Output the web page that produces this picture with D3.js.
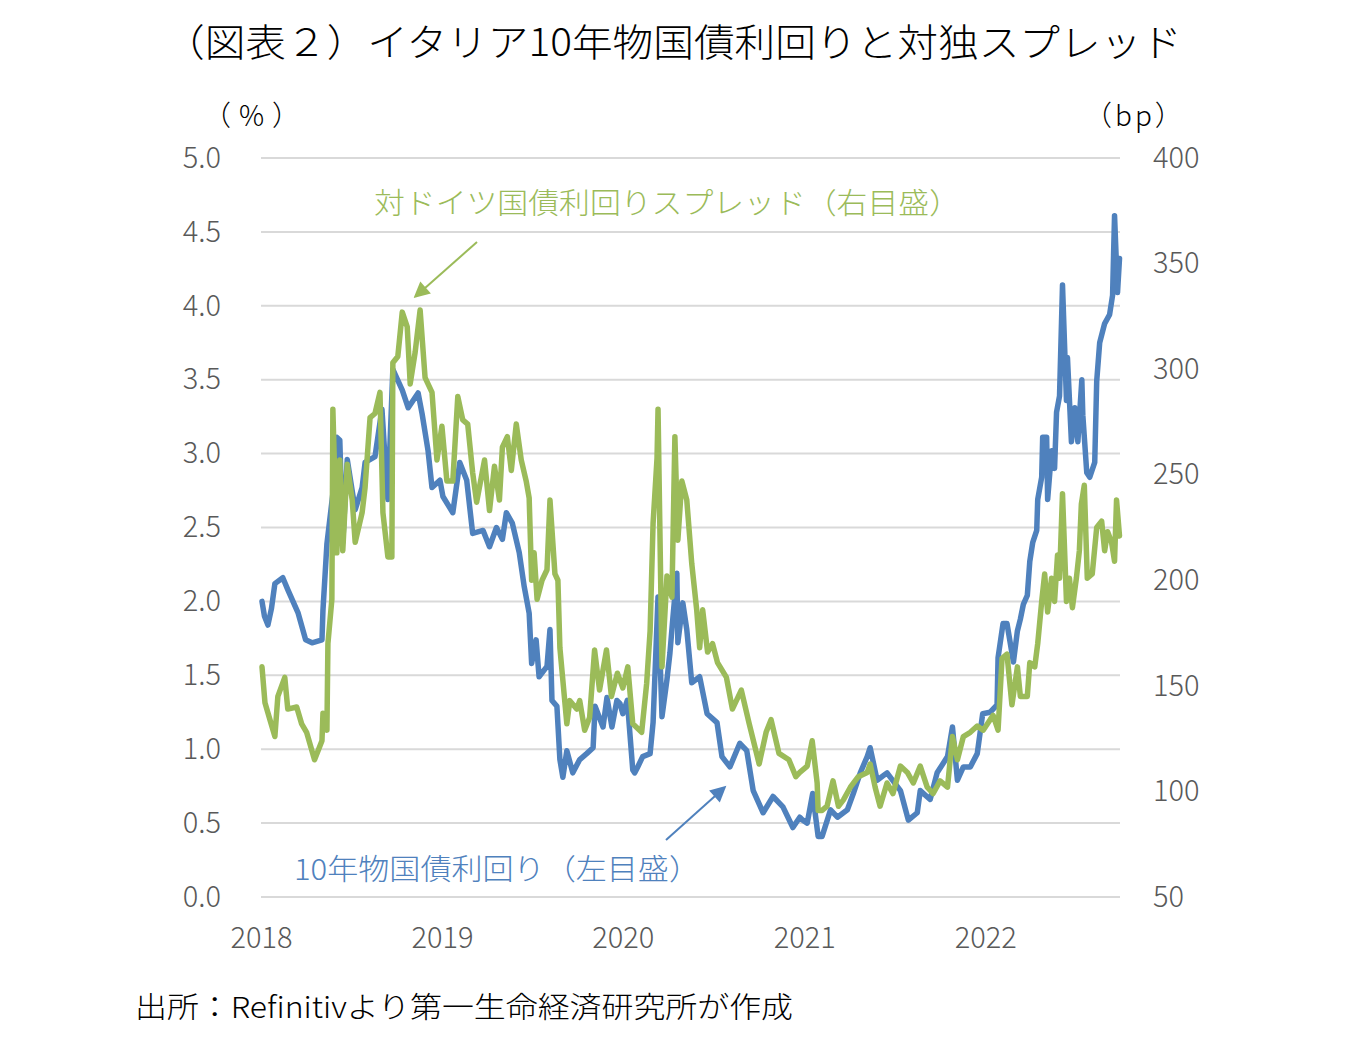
<!DOCTYPE html>
<html>
<head>
<meta charset="utf-8">
<script src="https://cdn.jsdelivr.net/npm/d3@7"></script>
<style>
  body { margin: 0; background: #fff; }
  svg text { font-family: 'Noto Sans CJK JP', 'Noto Sans', sans-serif; text-spacing-trim: space-all; }
</style>
</head>
<body>
<svg id="chart" width="1364" height="1050"></svg>
<script>
'use strict';

var titleText = '（図表２）イタリア10年物国債利回りと対独スプレッド';
var sourceText = '出所：Refinitivより第一生命経済研究所が作成';
var yieldLabel = '10年物国債利回り（左目盛）';
var spreadLabel = '対ドイツ国債利回りスプレッド（右目盛）';
var leftUnit = '（%）';
var rightUnit = '（bp）';

var xStart = '2018-01-01';
var xEnd = '2022-09-30';
var xTicks = ['2018-01-01', '2019-01-01', '2020-01-01', '2021-01-01', '2022-01-01'];
var leftTicks = [0, 0.5, 1, 1.5, 2, 2.5, 3, 3.5, 4, 4.5, 5];
var rightTicks = [50, 100, 150, 200, 250, 300, 350, 400];

// 10-year BTP yield (%)
var yieldData = [
  ['2018-01-03', 2.0], ['2018-01-08', 1.9], ['2018-01-15', 1.84], ['2018-01-22', 1.95], ['2018-01-29', 2.12], ['2018-02-14', 2.16],
  ['2018-02-24', 2.08], ['2018-03-17', 1.92], ['2018-04-01', 1.74], ['2018-04-14', 1.72],
  ['2018-05-04', 1.74], ['2018-05-06', 1.94], ['2018-05-14', 2.39], ['2018-05-26', 2.73],
  ['2018-06-03', 3.11], ['2018-06-09', 3.09], ['2018-06-15', 2.4], ['2018-06-24', 2.96],
  ['2018-07-10', 2.62], ['2018-07-24', 2.77], ['2018-07-30', 2.94], ['2018-08-19', 2.98],
  ['2018-09-02', 3.3], ['2018-09-12', 2.77], ['2018-09-14', 2.69], ['2018-09-24', 3.57],
  ['2018-10-13', 3.43], ['2018-10-25', 3.31], ['2018-11-14', 3.41], ['2018-11-22', 3.27],
  ['2018-12-04', 3.02], ['2018-12-12', 2.77], ['2018-12-28', 2.82], ['2019-01-03', 2.71],
  ['2019-01-23', 2.6], ['2019-02-06', 2.94], ['2019-02-20', 2.82], ['2019-03-04', 2.46],
  ['2019-03-25', 2.48], ['2019-04-07', 2.37], ['2019-04-21', 2.5], ['2019-05-03', 2.42],
  ['2019-05-11', 2.6], ['2019-05-23', 2.53], ['2019-06-06', 2.33], ['2019-06-16', 2.1],
  ['2019-06-26', 1.92], ['2019-07-01', 1.58], ['2019-07-10', 1.74], ['2019-07-16', 1.49],
  ['2019-08-01', 1.56], ['2019-08-07', 1.81], ['2019-08-11', 1.33], ['2019-08-21', 1.29],
  ['2019-08-27', 0.93], ['2019-09-02', 0.81], ['2019-09-10', 0.99], ['2019-09-22', 0.84],
  ['2019-10-06', 0.93], ['2019-10-20', 0.97], ['2019-11-02', 1.01], ['2019-11-06', 1.29],
  ['2019-11-22', 1.15], ['2019-11-30', 1.35], ['2019-12-10', 1.15], ['2019-12-20', 1.33],
  ['2019-12-26', 1.31], ['2020-01-01', 1.24], ['2020-01-10', 1.33], ['2020-01-21', 0.86],
  ['2020-01-25', 0.84], ['2020-01-31', 0.88], ['2020-02-10', 0.95], ['2020-02-25', 0.97],
  ['2020-03-02', 1.18], ['2020-03-12', 2.03], ['2020-03-20', 1.22], ['2020-03-30', 1.47],
  ['2020-04-05', 1.65], ['2020-04-11', 1.89], ['2020-04-19', 2.19], ['2020-04-21', 1.72],
  ['2020-05-01', 1.99], ['2020-05-09', 1.81], ['2020-05-19', 1.45], ['2020-06-04', 1.49],
  ['2020-06-19', 1.24], ['2020-07-09', 1.18], ['2020-07-19', 0.95], ['2020-08-04', 0.88],
  ['2020-08-24', 1.04], ['2020-09-07', 0.99], ['2020-09-20', 0.72], ['2020-10-10', 0.57],
  ['2020-10-30', 0.68], ['2020-11-19', 0.61], ['2020-12-09', 0.47], ['2020-12-23', 0.54],
  ['2020-12-29', 0.52], ['2021-01-07', 0.5], ['2021-01-18', 0.7], ['2021-01-29', 0.41],
  ['2021-02-06', 0.41], ['2021-02-23', 0.59], ['2021-03-09', 0.54], ['2021-03-29', 0.59],
  ['2021-04-10', 0.7], ['2021-04-24', 0.84], ['2021-05-08', 0.95], ['2021-05-14', 1.01],
  ['2021-05-28', 0.79], ['2021-06-17', 0.84], ['2021-07-14', 0.72], ['2021-07-30', 0.52],
  ['2021-08-17', 0.57], ['2021-08-23', 0.72], ['2021-09-12', 0.66], ['2021-09-26', 0.84],
  ['2021-10-17', 0.95], ['2021-10-27', 1.15], ['2021-11-06', 0.79], ['2021-11-18', 0.88],
  ['2021-12-02', 0.88], ['2021-12-16', 0.97], ['2021-12-27', 1.24], ['2022-01-11', 1.25],
  ['2022-01-25', 1.3], ['2022-01-27', 1.62], ['2022-02-06', 1.85], ['2022-02-14', 1.85],
  ['2022-02-27', 1.59], ['2022-03-07', 1.8], ['2022-03-13', 1.88], ['2022-03-19', 1.98],
  ['2022-03-27', 2.04], ['2022-04-01', 2.27], ['2022-04-07', 2.4], ['2022-04-15', 2.48],
  ['2022-04-17', 2.69], ['2022-04-25', 2.84], ['2022-04-27', 3.11], ['2022-05-05', 3.11],
  ['2022-05-07', 2.69], ['2022-05-15', 3.02], ['2022-05-21', 2.9], ['2022-05-25', 3.28],
  ['2022-05-31', 3.39], ['2022-06-06', 4.14], ['2022-06-14', 3.36], ['2022-06-16', 3.65],
  ['2022-06-24', 3.08], ['2022-07-01', 3.31], ['2022-07-07', 3.08], ['2022-07-15', 3.5],
  ['2022-07-17', 3.26], ['2022-07-25', 2.87], ['2022-07-31', 2.84], ['2022-08-10', 2.94],
  ['2022-08-14', 3.49], ['2022-08-20', 3.75], ['2022-08-30', 3.88], ['2022-09-09', 3.94],
  ['2022-09-15', 4.07], ['2022-09-19', 4.61], ['2022-09-25', 4.09], ['2022-09-29', 4.32]
];

// spread vs German Bund (bp)
var spreadData = [
  ['2018-01-03', 159], ['2018-01-09', 142], ['2018-01-19', 134], ['2018-01-29', 126],
  ['2018-02-04', 145], ['2018-02-18', 154], ['2018-02-24', 139], ['2018-03-14', 140],
  ['2018-03-24', 132], ['2018-04-03', 128], ['2018-04-19', 115], ['2018-05-04', 124],
  ['2018-05-06', 137], ['2018-05-14', 129], ['2018-05-16', 170], ['2018-05-24', 191],
  ['2018-05-26', 281], ['2018-06-03', 213], ['2018-06-09', 257], ['2018-06-15', 214],
  ['2018-06-24', 255], ['2018-07-04', 238], ['2018-07-10', 218], ['2018-07-24', 232],
  ['2018-07-30', 244], ['2018-08-09', 277], ['2018-08-19', 279], ['2018-08-29', 289],
  ['2018-09-04', 232], ['2018-09-14', 211], ['2018-09-22', 211], ['2018-09-24', 303],
  ['2018-10-04', 306], ['2018-10-13', 327], ['2018-10-23', 320], ['2018-10-29', 293],
  ['2018-11-08', 308], ['2018-11-18', 328], ['2018-11-28', 296], ['2018-12-12', 289],
  ['2018-12-22', 257], ['2019-01-01', 273], ['2019-01-11', 247], ['2019-01-23', 247],
  ['2019-02-02', 287], ['2019-02-12', 276], ['2019-02-22', 274], ['2019-03-04', 251],
  ['2019-03-12', 237], ['2019-03-28', 257], ['2019-04-07', 233], ['2019-04-17', 254],
  ['2019-04-27', 238], ['2019-05-03', 263], ['2019-05-13', 268], ['2019-05-21', 252],
  ['2019-05-31', 274], ['2019-06-10', 257], ['2019-06-20', 247], ['2019-06-26', 239],
  ['2019-07-01', 200], ['2019-07-06', 213], ['2019-07-12', 191], ['2019-07-22', 200],
  ['2019-08-01', 205], ['2019-08-07', 238], ['2019-08-17', 203], ['2019-08-23', 200],
  ['2019-08-27', 168], ['2019-09-10', 132], ['2019-09-16', 143], ['2019-09-30', 139],
  ['2019-10-06', 143], ['2019-10-16', 129], ['2019-10-26', 135], ['2019-11-05', 167],
  ['2019-11-15', 148], ['2019-11-29', 167], ['2019-12-09', 145], ['2019-12-21', 156],
  ['2020-01-01', 149], ['2020-01-11', 159], ['2020-01-21', 132], ['2020-02-08', 128],
  ['2020-02-18', 151], ['2020-02-25', 176], ['2020-03-02', 227], ['2020-03-10', 258],
  ['2020-03-12', 281], ['2020-03-20', 159], ['2020-03-30', 202], ['2020-04-09', 192],
  ['2020-04-15', 268], ['2020-04-21', 219], ['2020-04-29', 247], ['2020-05-09', 238],
  ['2020-05-19', 208], ['2020-05-29', 186], ['2020-06-04', 168], ['2020-06-10', 186],
  ['2020-06-20', 166], ['2020-06-30', 170], ['2020-07-10', 161], ['2020-07-28', 154],
  ['2020-08-09', 139], ['2020-08-27', 148], ['2020-09-12', 132], ['2020-10-02', 113],
  ['2020-10-16', 128], ['2020-10-26', 134], ['2020-11-11', 118], ['2020-12-01', 115],
  ['2020-12-15', 107], ['2020-12-23', 109], ['2021-01-07', 112], ['2021-01-17', 124],
  ['2021-01-27', 104], ['2021-01-29', 91], ['2021-02-06', 91], ['2021-02-16', 93],
  ['2021-02-28', 105], ['2021-03-11', 93], ['2021-03-21', 96], ['2021-04-04', 102],
  ['2021-04-20', 107], ['2021-05-08', 109], ['2021-05-14', 113], ['2021-05-24', 102],
  ['2021-06-03', 93], ['2021-06-17', 104], ['2021-06-29', 99], ['2021-07-14', 112],
  ['2021-07-28', 109], ['2021-08-09', 104], ['2021-08-23', 112], ['2021-09-06', 102],
  ['2021-09-18', 99], ['2021-10-02', 105], ['2021-10-17', 102], ['2021-10-27', 126],
  ['2021-11-06', 115], ['2021-11-18', 126], ['2021-12-02', 128], ['2021-12-16', 131],
  ['2021-12-28', 129], ['2022-01-11', 134], ['2022-01-17', 136], ['2022-01-27', 129],
  ['2022-02-04', 163], ['2022-02-14', 165], ['2022-02-24', 141], ['2022-03-07', 159],
  ['2022-03-13', 145], ['2022-03-27', 145], ['2022-04-01', 161], ['2022-04-11', 159],
  ['2022-04-17', 170], ['2022-04-25', 190], ['2022-05-01', 203], ['2022-05-07', 185],
  ['2022-05-15', 201], ['2022-05-21', 190], ['2022-05-27', 212], ['2022-05-31', 201],
  ['2022-06-06', 241], ['2022-06-14', 190], ['2022-06-20', 201], ['2022-06-26', 187],
  ['2022-07-04', 201], ['2022-07-10', 214], ['2022-07-14', 236], ['2022-07-20', 245],
  ['2022-07-26', 201], ['2022-08-05', 203], ['2022-08-14', 225], ['2022-08-24', 228],
  ['2022-08-30', 214], ['2022-09-05', 223], ['2022-09-13', 218], ['2022-09-19', 209],
  ['2022-09-23', 238], ['2022-09-29', 221]
];

var blueColor = '#4F81BD';
var greenColor = '#9BBB59';
var tickColor = '#595959';
var gridColor = '#D9D9D9';

var margin = { left: 261, right: 1120, top: 158, bottom: 897 };
var parseDate = d3.timeParse('%Y-%m-%d');

var svg = d3.select('#chart');

var x = d3.scaleTime()
  .domain([parseDate(xStart), parseDate(xEnd)])
  .range([margin.left, margin.right]);
var yLeft = d3.scaleLinear().domain([0, 5]).range([margin.bottom, margin.top]);
var yRight = d3.scaleLinear().domain([50, 400]).range([margin.bottom, margin.top]);

function addText(str, px, py, size, color, width) {
  var t = svg.append('text')
    .attr('x', px).attr('y', py)
    .attr('font-size', size)
    .attr('font-weight', 300)
    .attr('fill', color)
    .text(str);
  if (width) t.attr('textLength', width).attr('lengthAdjust', 'spacingAndGlyphs');
  return t;
}

// title
addText(titleText, 164, 56, 38, '#000', 1018);

// gridlines from the left axis
svg.append('g')
  .selectAll('line')
  .data(leftTicks)
  .enter().append('line')
  .attr('x1', margin.left).attr('x2', margin.right)
  .attr('y1', function (d) { return yLeft(d); })
  .attr('y2', function (d) { return yLeft(d); })
  .attr('stroke', gridColor)
  .attr('stroke-width', 2);

// left axis
var leftAxis = svg.append('g')
  .attr('transform', 'translate(' + margin.left + ',0)')
  .call(d3.axisLeft(yLeft).tickValues(leftTicks).tickFormat(d3.format('.1f')).tickSize(0).tickPadding(40));
leftAxis.select('.domain').remove();

// right axis
var rightAxis = svg.append('g')
  .attr('transform', 'translate(' + margin.right + ',0)')
  .call(d3.axisRight(yRight).tickValues(rightTicks).tickSize(0).tickPadding(33));
rightAxis.select('.domain').remove();

// bottom axis
var bottomAxis = svg.append('g')
  .attr('transform', 'translate(0,' + margin.bottom + ')')
  .call(d3.axisBottom(x).tickValues(xTicks.map(parseDate)).tickFormat(d3.timeFormat('%Y')).tickSize(0).tickPadding(30));
bottomAxis.select('.domain').remove();

svg.selectAll('.tick text')
  .attr('font-family', "'Noto Sans CJK JP', sans-serif")
  .attr('font-weight', 300)
  .attr('font-size', 29)
  .attr('fill', tickColor);

// units
addText(leftUnit, 203, 126, 28, '#000').attr('letter-spacing', 8);
addText(rightUnit, 1084, 126, 28, '#000').attr('letter-spacing', 3);

// lines
var yieldLine = d3.line()
  .x(function (d) { return x(parseDate(d[0])); })
  .y(function (d) { return yLeft(d[1]); });
var spreadLine = d3.line()
  .x(function (d) { return x(parseDate(d[0])); })
  .y(function (d) { return yRight(d[1]); });

svg.append('path')
  .datum(yieldData)
  .attr('d', yieldLine)
  .attr('fill', 'none')
  .attr('stroke', blueColor)
  .attr('stroke-width', 5.5)
  .attr('stroke-linejoin', 'round')
  .attr('stroke-linecap', 'round');

svg.append('path')
  .datum(spreadData)
  .attr('d', spreadLine)
  .attr('fill', 'none')
  .attr('stroke', greenColor)
  .attr('stroke-width', 5.5)
  .attr('stroke-linejoin', 'round')
  .attr('stroke-linecap', 'round');

// arrows
var defs = svg.append('defs');
function addMarker(id, color) {
  defs.append('marker')
    .attr('id', id)
    .attr('viewBox', '0 0 10 10')
    .attr('refX', 8).attr('refY', 5)
    .attr('markerWidth', 9).attr('markerHeight', 8)
    .attr('markerUnits', 'strokeWidth')
    .attr('orient', 'auto')
    .append('path')
    .attr('d', 'M0,0 L10,5 L0,10 z')
    .attr('fill', color);
}
addMarker('arrowGreen', greenColor);
addMarker('arrowBlue', blueColor);

svg.append('line')
  .attr('x1', 477).attr('y1', 242).attr('x2', 416).attr('y2', 296)
  .attr('stroke', greenColor).attr('stroke-width', 2)
  .attr('marker-end', 'url(#arrowGreen)');
svg.append('line')
  .attr('x1', 666).attr('y1', 840).attr('x2', 724).attr('y2', 788)
  .attr('stroke', blueColor).attr('stroke-width', 2)
  .attr('marker-end', 'url(#arrowBlue)');

// annotation labels
addText(spreadLabel, 374, 214, 29, greenColor, 586);
addText(yieldLabel, 294, 880, 29, blueColor, 406);

// source
addText(sourceText, 135, 1018, 29, '#000', 658);
</script>
</body>
</html>
